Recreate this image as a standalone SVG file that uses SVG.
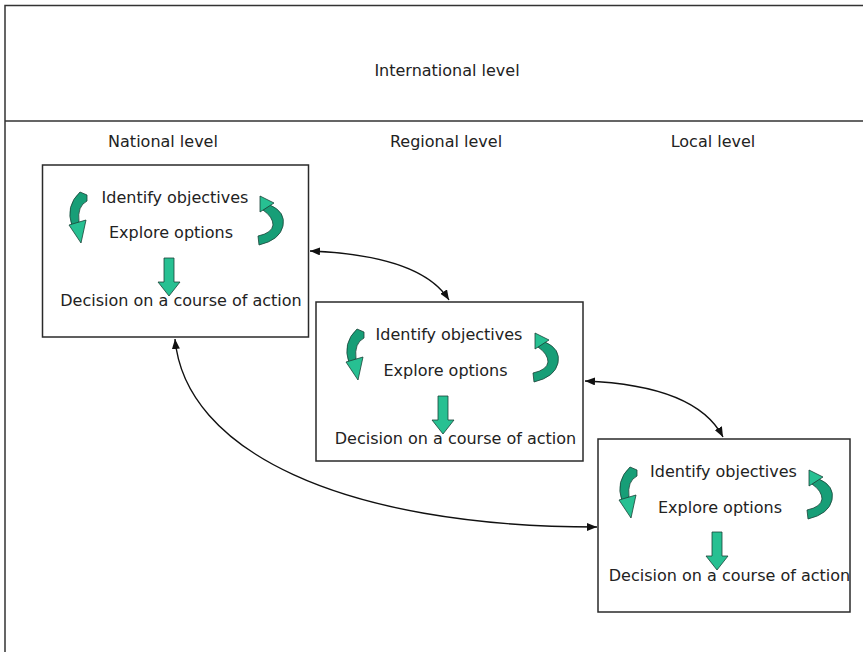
<svg xmlns="http://www.w3.org/2000/svg" xmlns:xlink="http://www.w3.org/1999/xlink" width="863" height="652" viewBox="0 0 863 652">
  <style>
    .frame { fill: none; stroke: #333; stroke-width: 1.5; }
    .box { fill: #fff; stroke: #2a2a2a; stroke-width: 1.5; }
    .label { font-family: "DejaVu Sans", Verdana, sans-serif; font-size: 16px; fill: #222; text-anchor: middle; }
    .conn { fill: none; stroke: #111; stroke-width: 1.4; marker-start: url(#head); marker-end: url(#head); }
    .band { fill: #179e77; stroke: #1b4237; stroke-width: 0.8; }
    .tip { fill: #27c092; stroke: #1b4237; stroke-width: 0.8; }
  </style>
  <defs>
    <marker id="head" viewBox="0 0 10 8" refX="10" refY="4" markerWidth="10" markerHeight="8" markerUnits="userSpaceOnUse" orient="auto-start-reverse">
      <path d="M0,0 L10,4 L0,8 Z" fill="#111"/>
    </marker>
    <!-- curved arrow on the left of a box: sweeps down, head pointing down-right -->
    <g id="curlL">
      <path class="band" d="M13 0 L20 3 L20 9 Q10 14 12 30 L5 34 Q-2 14 13 0 Z"/>
      <path class="tip" d="M2 33 L19 28 L14 51 Z"/>
    </g>
    <!-- curved arrow on the right of a box: sweeps up, head pointing up-left -->
    <g id="curlR">
      <path class="band" d="M13 10 Q29 17 26 31 Q23 45 2 50 L1 41 Q15 38 16 30 Q16 22 6 15 Z"/>
      <path class="tip" d="M3 1 L17 8 L3 17 Z"/>
    </g>
    <!-- straight block arrow pointing down -->
    <g id="down">
      <path class="tip" d="M6 0 L16 0 L16 24 L22 24 L11 38 L0 24 L6 24 Z"/>
    </g>
  </defs>

  <!-- outer frame with the international band -->
  <g id="frame">
    <path class="frame" d="M5 652 L5 5.5 L863 5.5 M5 121 L863 121"/>
    <text class="label" x="447" y="76">International level</text>
    <text class="label" x="163" y="147">National level</text>
    <text class="label" x="446" y="147">Regional level</text>
    <text class="label" x="713" y="147">Local level</text>
  </g>

  <!-- connectors -->
  <g id="connectors">
    <path class="conn" d="M310 251 C360 253 425 262 449 300"/>
    <path class="conn" d="M585 381 C635 383 700 393 723 437"/>
    <path class="conn" d="M175 339 C185 450 340 527 597 527"/>
  </g>

  <g id="national">
    <rect class="box" x="42.5" y="165" width="266" height="172"/>
    <use href="#curlL" x="67" y="192"/>
    <use href="#curlR" x="257" y="195"/>
    <use href="#down" x="158" y="258"/>
    <text class="label" x="175" y="203">Identify objectives</text>
    <text class="label" x="171" y="238">Explore options</text>
    <text class="label" x="181" y="306">Decision on a course of action</text>
  </g>

  <g id="regional">
    <rect class="box" x="316" y="302" width="267" height="159"/>
    <use href="#curlL" x="344" y="329"/>
    <use href="#curlR" x="532" y="332"/>
    <use href="#down" x="432" y="396"/>
    <text class="label" x="449" y="340">Identify objectives</text>
    <text class="label" x="445.5" y="376">Explore options</text>
    <text class="label" x="455.5" y="444">Decision on a course of action</text>
  </g>

  <g id="local">
    <rect class="box" x="598" y="439" width="252" height="173"/>
    <use href="#curlL" x="617" y="467"/>
    <use href="#curlR" x="806" y="469"/>
    <use href="#down" x="706" y="532"/>
    <text class="label" x="723.5" y="477">Identify objectives</text>
    <text class="label" x="720" y="513">Explore options</text>
    <text class="label" x="729.5" y="581">Decision on a course of action</text>
  </g>
</svg>
